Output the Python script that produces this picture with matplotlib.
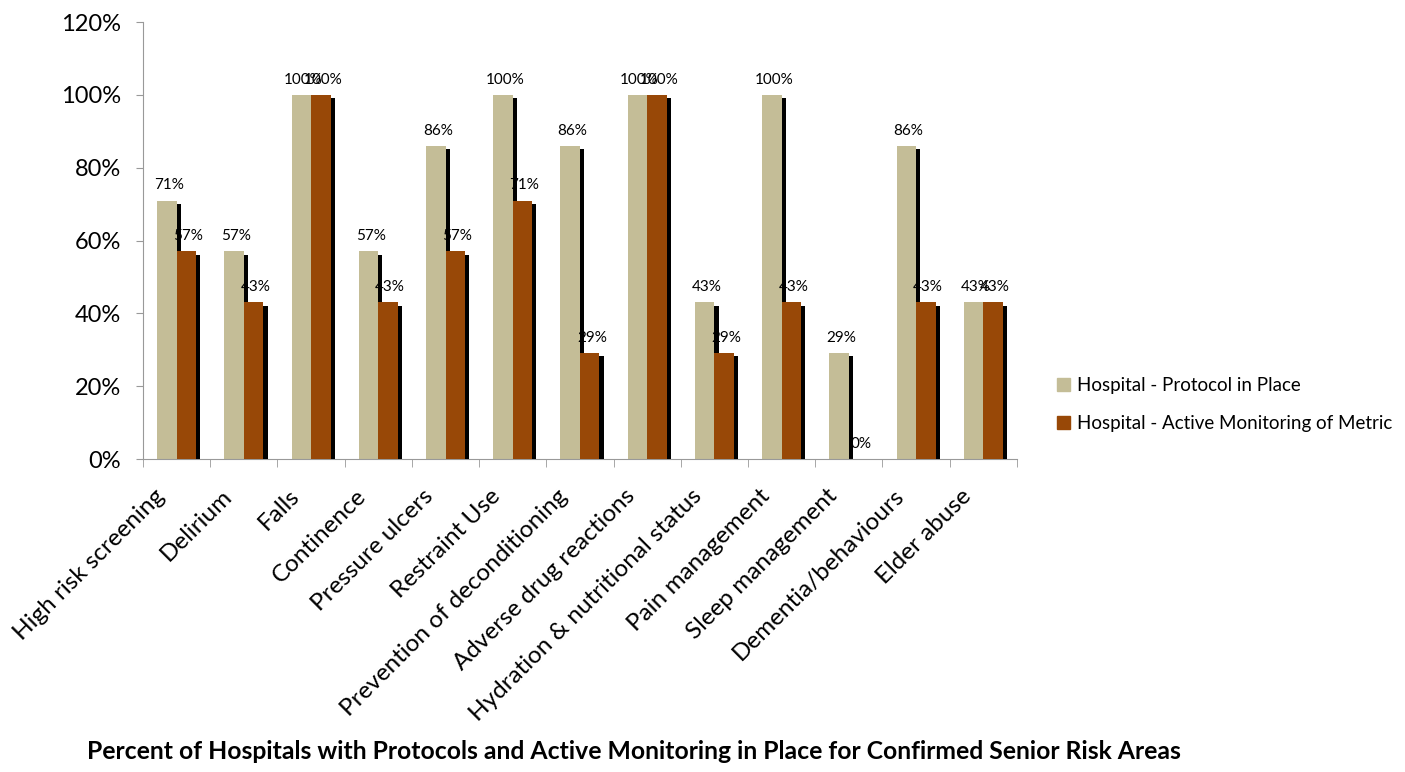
import matplotlib.pyplot as plt
import matplotlib.patheffects as pe
from matplotlib.patches import Patch
from matplotlib.transforms import ScaledTranslation
import numpy as np

categories = ["High risk screening", "Delirium", "Falls", "Continence", "Pressure ulcers",
              "Restraint Use", "Prevention of deconditioning", "Adverse drug reactions",
              "Hydration & nutritional status", "Pain management", "Sleep management",
              "Dementia/behaviours", "Elder abuse"]
protocol = [71, 57, 100, 57, 86, 100, 86, 100, 43, 100, 29, 86, 43]
monitoring = [57, 43, 100, 43, 57, 71, 29, 100, 29, 43, 0, 43, 43]

plt.rcParams['font.family'] = ['Lato', 'DejaVu Sans']

fig = plt.figure(figsize=(14.05, 7.72), dpi=100)
ax = fig.add_axes([0.1018, 0.4054, 0.622, 0.566])

x = np.arange(len(categories))
w = 0.29
tan, brown = '#C4BD97', '#984807'
shadow = [pe.SimplePatchShadow(offset=(3, -2.2), shadow_rgbFace='black', alpha=1.0), pe.Normal()]

b1 = ax.bar(x - w / 2, protocol, w, color=tan, path_effects=shadow, zorder=2)
b2 = ax.bar(x + w / 2, monitoring, w, color=brown, path_effects=shadow, zorder=3)

for bars, vals in [(b1, protocol), (b2, monitoring)]:
    for rect, v in zip(bars, vals):
        ax.annotate(f"{v}%", (rect.get_x() + rect.get_width() / 2 + 0.03, v), xytext=(0, 6),
                    textcoords='offset points', ha='center', va='bottom', fontsize=11, zorder=5)

ax.set_xlim(-0.5, len(categories) - 0.5)
ax.set_ylim(0, 120)
ax.set_yticks(range(0, 121, 20))
ax.set_yticklabels([f"{v}%" for v in range(0, 121, 20)], fontsize=17)
ax.set_xticks(x)
ax.set_xticklabels(categories, rotation=45, ha='right', rotation_mode='anchor', fontsize=17.5)
ax.set_xticks(np.arange(-0.5, len(categories)), minor=True)
ax.tick_params(axis='x', which='major', length=0, pad=6)
ax.tick_params(axis='x', which='minor', length=6, color='#999999')
ax.tick_params(axis='y', length=5, color='#999999', pad=11)

# nudge the slanted labels down-left like the original
shift = ScaledTranslation(-0.23, -0.18, fig.dpi_scale_trans)
for lbl in ax.get_xticklabels():
    lbl.set_transform(lbl.get_transform() + shift)

for s in ['top', 'right']:
    ax.spines[s].set_visible(False)
for s in ['left', 'bottom']:
    ax.spines[s].set_color('#999999')

handles = [Patch(color=tan, label='Hospital - Protocol in Place'),
           Patch(color=brown, label='Hospital - Active Monitoring of Metric')]
fig.legend(handles=handles, loc='center left', bbox_to_anchor=(0.74, 0.476), frameon=False,
           fontsize=13.5, handlelength=0.7, handleheight=0.7, labelspacing=1.1, handletextpad=0.4)

fig.text(0.451, 0.012, "Percent of Hospitals with Protocols and Active Monitoring in Place for Confirmed Senior Risk Areas",
         ha='center', va='bottom', fontsize=17.8, fontweight='bold')

fig.savefig('out.png', dpi=100)
